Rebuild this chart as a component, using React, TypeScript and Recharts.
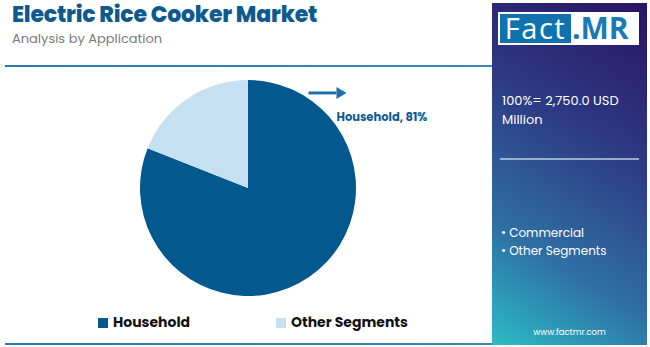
import React from "react";
import { PieChart, Pie, Cell, Legend } from "recharts";

const categories = ["Household", "Other Segments"];
const shares = [81, 19];
const colors = ["#03588E", "#C5E1F1"];
const panelItems = ["Commercial", "Other Segments"];
const totalLabel = "100%= 2,750.0 USD";
const totalUnit = "Million";

const data = categories.map((name, i) => ({ name, value: shares[i] }));

const FONT = "Poppins, 'Open Sans', Inter, sans-serif";

const renderLabel = (props: any) => {
  const { cx, cy, index, outerRadius } = props;
  if (index !== 0) return null;
  const ax = cx + outerRadius * 0.56;
  const ay = cy - outerRadius * 0.88;
  return (
    <g>
      <line x1={ax} y1={ay} x2={ax + 28} y2={ay} stroke="#1F6FA8" strokeWidth={3} />
      <polygon points={`${ax + 28},${ay - 6} ${ax + 38},${ay} ${ax + 28},${ay + 6}`} fill="#1F6FA8" />
      <text x={ax + 28} y={ay + 28} fill="#0E5C92" fontSize={11.5} fontWeight={700} fontFamily={FONT}>
        {`${data[0].name}, ${data[0].value}%`}
      </text>
    </g>
  );
};

const renderLegend = () => (
  <div style={{ display: "flex", fontFamily: FONT }}>
    {data.map((d, i) => (
      <div key={d.name} style={{ display: "flex", alignItems: "center", width: i === 0 ? 178 : 160 }}>
        <span style={{ width: 10, height: 10, background: colors[i], display: "inline-block", marginRight: 5 }} />
        <span style={{ fontWeight: 700, fontSize: 14, color: "#111" }}>{d.name}</span>
      </div>
    ))}
  </div>
);

export default function App() {
  return (
    <div style={{ position: "absolute", left: 0, top: 0, width: 650, height: 347, background: "#fff", overflow: "hidden", fontFamily: FONT }}>
      <div style={{ position: "absolute", left: 12, top: 2, fontSize: 22, lineHeight: "25px", fontWeight: 800, color: "#0C5A8E", whiteSpace: "nowrap", letterSpacing: -0.2 }}>
        Electric Rice Cooker Market
      </div>
      <div style={{ position: "absolute", left: 12, top: 31, fontSize: 13, lineHeight: "16px", color: "#7a7a7a", whiteSpace: "nowrap" }}>
        Analysis by Application
      </div>
      <div style={{ position: "absolute", left: 5, top: 65, width: 488, height: 2, background: "linear-gradient(90deg, #2b78b4, #3d87bd)" }} />
      <div style={{ position: "absolute", left: 5, top: 343, width: 488, height: 2, background: "linear-gradient(90deg, #2b78b4, #3d87bd)" }} />

      <div style={{ position: "absolute", left: 0, top: 0 }}>
        <PieChart width={490} height={347}>
          <Pie
            data={data}
            dataKey="value"
            nameKey="name"
            cx={243}
            cy={183}
            outerRadius={108}
            startAngle={90}
            endAngle={-270}
            stroke="none"
            label={renderLabel}
            labelLine={false}
            isAnimationActive={false}
          >
            {data.map((d, i) => (
              <Cell key={d.name} fill={colors[i]} />
            ))}
          </Pie>
          <Legend content={renderLegend} wrapperStyle={{ position: "absolute", left: 98, top: 312, width: 360 }} />
        </PieChart>
      </div>

      <div style={{ position: "absolute", left: 492, top: 3, width: 155, height: 342, background: "linear-gradient(212deg, #2a1364 0%, #2d3a84 38%, #2f6fa4 72%, #2cbcc4 100%)" }}>
        <div style={{ position: "absolute", left: 6, top: 9, width: 141, height: 33, background: "#fff" }} />
        <div style={{ position: "absolute", left: 8, top: 11, width: 71, height: 29, background: "#1173AE" }} />
        <div style={{ position: "absolute", left: 8, top: 10, width: 71, lineHeight: "30px", color: "#fff", fontSize: 29, textAlign: "center", letterSpacing: 1.5, fontFamily: "'Open Sans', sans-serif" }}>
          Fact
        </div>
        <div style={{ position: "absolute", left: 80, top: 10, lineHeight: "30px", color: "#1A79B6", fontSize: 30, fontWeight: 700, fontFamily: "'Open Sans', sans-serif" }}>
          .MR
        </div>
        <div style={{ position: "absolute", left: 10, top: 88, color: "#fff", fontSize: 13, lineHeight: "19px" }}>
          <div>{totalLabel}</div>
          <div>{totalUnit}</div>
        </div>
        <div style={{ position: "absolute", left: 8, top: 155, width: 139, height: 1.5, background: "rgba(200,215,240,0.7)" }} />
        <div style={{ position: "absolute", left: 9, top: 221, color: "#fff", fontSize: 12, lineHeight: "18px" }}>
          {panelItems.map((t) => (
            <div key={t}>{`\u2022 ${t}`}</div>
          ))}
        </div>
        <div style={{ position: "absolute", left: 0, width: 155, top: 323, textAlign: "center", color: "#fff", fontSize: 8.5 }}>
          www.factmr.com
        </div>
      </div>
    </div>
  );
}
